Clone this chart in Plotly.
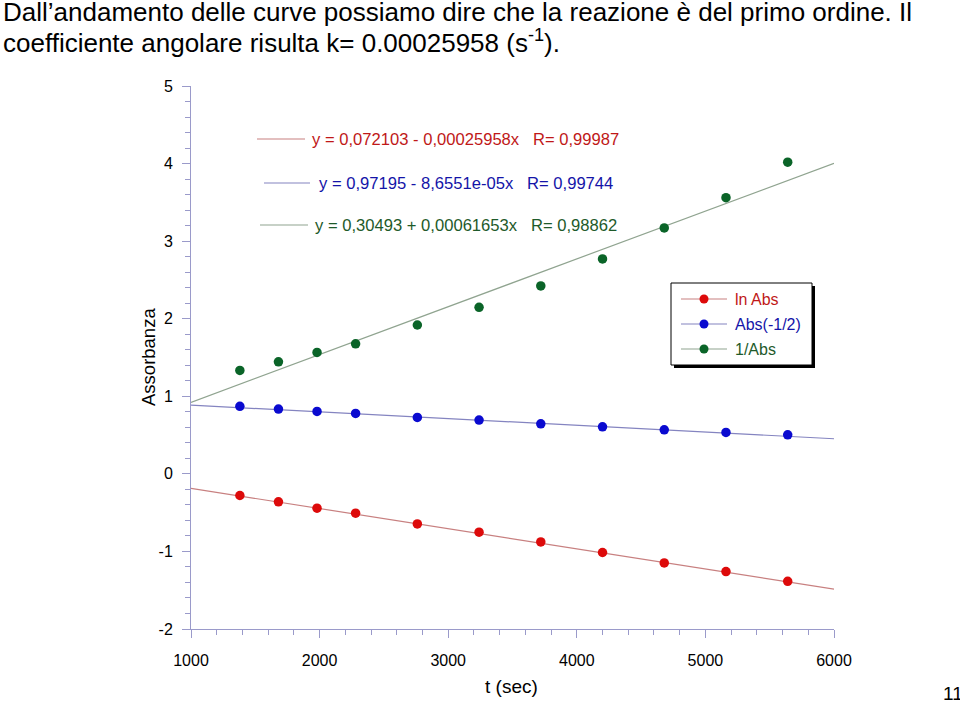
import plotly.graph_objects as go

# ---------------- data ----------------
t_sec = [1380, 1680, 1980, 2280, 2760, 3240, 3720, 4200, 4680, 5160, 5640]
ln_abs = [-0.279, -0.361, -0.443, -0.507, -0.645, -0.752, -0.877, -1.014, -1.148, -1.259, -1.385]
abs_m12 = [0.870, 0.835, 0.805, 0.779, 0.728, 0.693, 0.645, 0.606, 0.568, 0.534, 0.503]
inv_abs = [1.334, 1.445, 1.566, 1.677, 1.919, 2.147, 2.422, 2.770, 3.170, 3.561, 4.018]

series_names = ["ln Abs", "Abs(-1/2)", "1/Abs"]
fit_intercepts = [0.072103, 0.97195, 0.30493]
fit_slopes = [-0.00025958, -8.6551e-05, 0.00061653]
fit_labels = [
    "y = 0,072103 - 0,00025958x   R= 0,99987",
    "y = 0,97195 - 8,6551e-05x   R= 0,99744",
    "y = 0,30493 + 0,00061653x   R= 0,98862",
]
x_range = [1000, 6000]
y_range = [-2, 5]
x_ticks = [1000, 2000, 3000, 4000, 5000, 6000]
x_tick_labels = ["1000", "2000", "3000", "4000", "5000", "6000"]
y_ticks = [-2, -1, 0, 1, 2, 3, 4, 5]
y_tick_labels = ["-2", "-1", "0", "1", "2", "3", "4", "5"]

title_lines = [
    "Dall\u2019andamento delle curve possiamo dire che la reazione \u00e8 del primo ordine. Il",
    "coefficiente angolare risulta k= 0.00025958 (s<sup>-1</sup>).",
]
x_title = "t (sec)"
y_title = "Assorbanza"
page_no = "11"

# ---------------- style ----------------
FONT = "Liberation Sans, Arial, sans-serif"
marker_colors = ["#dd0a0a", "#0a0ad0", "#0a6428"]
line_colors = ["#c88080", "#8484c0", "#90a490"]
text_colors = ["#c01818", "#1414a8", "#1e5a2a"]
axis_color = "#9a9aca"

W, H = 960, 703
L, R, T, B = 191, 126, 86, 74
PW, PH = W - L - R, H - T - B


def px(x):
    return (x - L) / PW


def py(y):
    return (H - B - y) / PH


fig = go.Figure()
series = [ln_abs, abs_m12, inv_abs]
for i, ys in enumerate(series):
    a, b = fit_intercepts[i], fit_slopes[i]
    fig.add_trace(go.Scatter(
        x=x_range, y=[a + b * x_range[0], a + b * x_range[1]],
        mode="lines", line=dict(color=line_colors[i], width=1.2),
        showlegend=False, hoverinfo="skip"))
for i, ys in enumerate(series):
    fig.add_trace(go.Scatter(
        x=t_sec, y=ys, mode="markers", name=series_names[i],
        marker=dict(color=marker_colors[i], size=9.5, line=dict(width=0)),
        showlegend=False))

shapes = []
annotations = []

# title lines
title_y = [12, 42]
for i, txt in enumerate(title_lines):
    annotations.append(dict(
        text=txt, xref="paper", yref="paper", x=px(1), y=py(title_y[i]),
        xanchor="left", yanchor="middle", showarrow=False,
        font=dict(family=FONT, size=26, color="black")))

# regression equations
eq_rows = [139, 183, 225]
eq_seg = [(257, 305), (264, 310), (260, 308)]
eq_text_x = [310, 317, 313]
for i in range(3):
    shapes.append(dict(type="line", xref="paper", yref="paper",
                       x0=px(eq_seg[i][0]), x1=px(eq_seg[i][1]),
                       y0=py(eq_rows[i]), y1=py(eq_rows[i]),
                       line=dict(color=line_colors[i], width=1.2)))
    annotations.append(dict(
        text=fit_labels[i], xref="paper", yref="paper",
        x=px(eq_text_x[i]), y=py(eq_rows[i]), xanchor="left", yanchor="middle",
        showarrow=False, font=dict(family=FONT, size=16.6, color=text_colors[i])))

# legend box with shadow
bx0, by0, bx1, by1 = 671, 283, 812, 365
shapes.append(dict(type="rect", xref="paper", yref="paper",
                   x0=px(bx0 + 3), x1=px(bx1 + 3), y0=py(by0 + 3), y1=py(by1 + 3),
                   fillcolor="black", line=dict(width=0)))
shapes.append(dict(type="rect", xref="paper", yref="paper",
                   x0=px(bx0), x1=px(bx1), y0=py(by0), y1=py(by1),
                   fillcolor="white", line=dict(color="black", width=1)))
leg_rows = [299, 324, 349]
for i in range(3):
    shapes.append(dict(type="line", xref="paper", yref="paper",
                       x0=px(681), x1=px(727), y0=py(leg_rows[i]), y1=py(leg_rows[i]),
                       line=dict(color=line_colors[i], width=1.2)))
    shapes.append(dict(type="circle", xref="paper", yref="paper",
                       xsizemode="pixel", ysizemode="pixel",
                       xanchor=px(704), yanchor=py(leg_rows[i]),
                       x0=-4.5, x1=4.5, y0=-4.5, y1=4.5,
                       fillcolor=marker_colors[i], line=dict(width=0)))
    annotations.append(dict(
        text=series_names[i], xref="paper", yref="paper",
        x=px(733), y=py(leg_rows[i]), xanchor="left", yanchor="middle",
        showarrow=False, font=dict(family=FONT, size=16, color=text_colors[i])))

# axis titles and page number
annotations.append(dict(text=x_title, xref="paper", yref="paper",
                        x=px(511), y=py(686), xanchor="center", yanchor="middle",
                        showarrow=False, font=dict(family=FONT, size=19, color="black")))
annotations.append(dict(text=y_title, xref="paper", yref="paper",
                        x=px(149), y=py(357), xanchor="center", yanchor="middle",
                        textangle=-90, showarrow=False,
                        font=dict(family=FONT, size=18.5, color="black")))
annotations.append(dict(text=page_no, xref="paper", yref="paper",
                        x=px(941), y=py(693), xanchor="left", yanchor="middle",
                        showarrow=False, font=dict(family=FONT, size=19, color="black")))

axis_common = dict(
    showgrid=False, zeroline=False, showline=True, linecolor=axis_color, linewidth=1,
    ticks="outside", ticklen=8, tickcolor=axis_color, tickwidth=1,
    tickfont=dict(family=FONT, size=16, color="black"),
)
fig.update_layout(
    width=W, height=H, autosize=False,
    margin=dict(l=L, r=R, t=T, b=B),
    paper_bgcolor="white", plot_bgcolor="white",
    font=dict(family=FONT, color="black"),
    xaxis=dict(range=x_range, tickvals=x_ticks, ticktext=x_tick_labels,
               ticklabelstandoff=9,
               minor=dict(dtick=200, ticklen=5, ticks="outside", tickcolor=axis_color),
               **axis_common),
    yaxis=dict(range=y_range, tickvals=y_ticks, ticktext=y_tick_labels,
               ticklabelstandoff=6,
               minor=dict(dtick=0.2, ticklen=5, ticks="outside", tickcolor=axis_color),
               **axis_common),
    shapes=shapes, annotations=annotations, showlegend=False,
)
fig.write_html(
    "out.html",
    config={"displayModeBar": False},
    post_script="document.body.style.margin='0';document.body.style.overflow='hidden';",
)
